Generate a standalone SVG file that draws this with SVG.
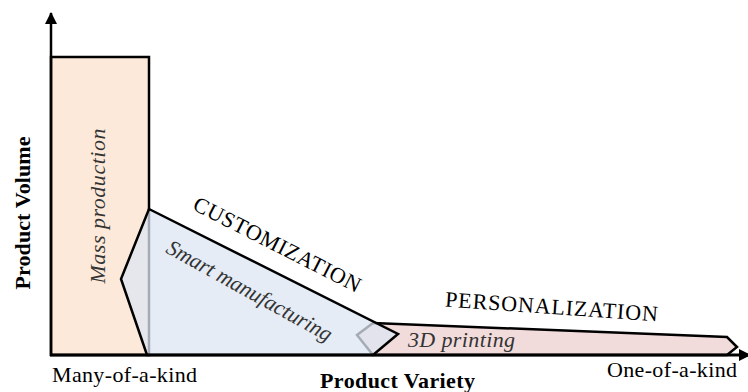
<svg xmlns="http://www.w3.org/2000/svg" width="748" height="392" viewBox="0 0 748 392">
<defs>
<style>
.shape{stroke:#000;stroke-width:2.5;stroke-linejoin:miter}
.t{font-family:"Liberation Serif","Times New Roman",serif;font-size:22px;fill:#000}
.b{font-weight:bold;font-size:22px}
.i{font-style:italic;fill:#333}
</style>
<marker id="arr" viewBox="0 0 12 12" refX="11" refY="6" markerWidth="12" markerHeight="12" markerUnits="userSpaceOnUse" orient="auto">
<path d="M0,0 L12,6 L0,12 Z" fill="#000"/>
</marker>
</defs>
<rect width="748" height="392" fill="#fff"/>
<g id="mass">
<rect class="shape" x="51" y="57" width="98" height="298" fill="#fde9d9"/>
<text class="t i" transform="translate(105,206) rotate(-90)" text-anchor="middle" textLength="155" lengthAdjust="spacing">Mass production</text>
</g>
<g id="printing">
<polygon class="shape" points="373,323 357,335 373,355 727,355 737,347 727,337" fill="#f2dcdb"/>
<text class="t i" x="408" y="347" textLength="107" lengthAdjust="spacing">3D printing</text>
</g>
<g id="smart">
<polygon class="shape" points="149,209 398,334 373,355 147,355 121,279" fill="#dce6f2" fill-opacity="0.75"/>
<text class="t i" transform="translate(246,297) rotate(29)" text-anchor="middle" textLength="186" lengthAdjust="spacing">Smart manufacturing</text>
</g>
<g id="connectors">
<line x1="51" y1="356" x2="51" y2="13" stroke="#000" stroke-width="2.5" marker-end="url(#arr)"/>
<line x1="50" y1="355" x2="750" y2="355" stroke="#000" stroke-width="3" marker-end="url(#arr)"/>
</g>
<g id="labels">
<text class="t" transform="translate(274,251) rotate(27)" text-anchor="middle" textLength="185" lengthAdjust="spacing">CUSTOMIZATION</text>
<text class="t" transform="translate(551,314) rotate(4)" text-anchor="middle" textLength="213" lengthAdjust="spacing">PERSONALIZATION</text>
<text class="t b" transform="translate(30,213) rotate(-90)" text-anchor="middle" textLength="153" lengthAdjust="spacing">Product Volume</text>
<text class="t" x="52" y="382" textLength="145" lengthAdjust="spacing">Many-of-a-kind</text>
<text class="t" x="607" y="377" textLength="130" lengthAdjust="spacing">One-of-a-kind</text>
<text class="t b" x="320" y="388" textLength="155" lengthAdjust="spacing">Product Variety</text>
</g>
</svg>
